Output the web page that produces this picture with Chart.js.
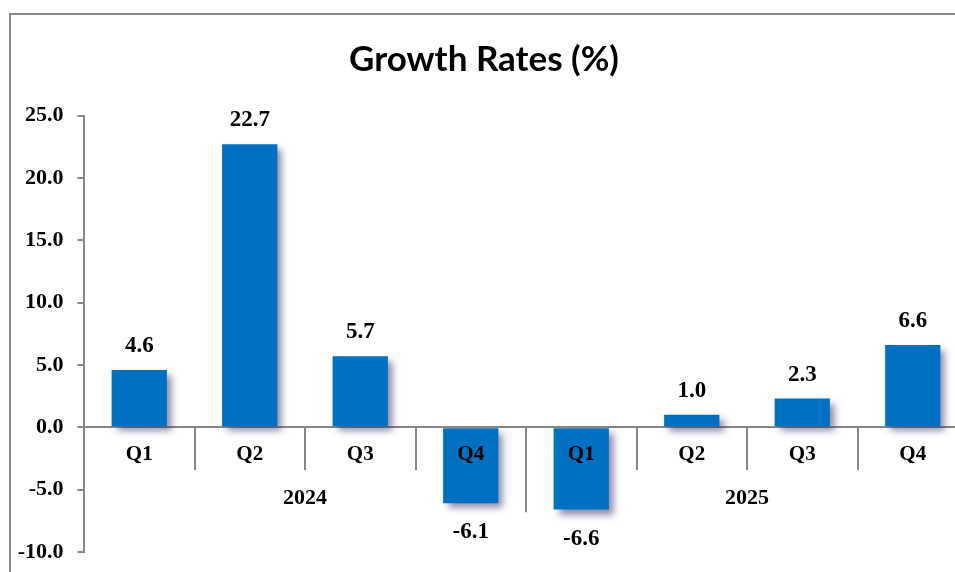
<!DOCTYPE html>
<html>
<head>
<meta charset="utf-8">
<script src="https://cdn.jsdelivr.net/npm/chart.js@4.4.1/dist/chart.umd.min.js"></script>
<style>
  html, body { margin: 0; padding: 0; background: #fff; overflow: hidden; width: 955px; height: 572px; }
  #frame { position: absolute; left: 9px; top: 13px; width: 960px; height: 570px; border-left: 2px solid #8a8a8a; border-top: 2px solid #8a8a8a; box-sizing: border-box; }
  #wrap { position: absolute; left: 0; top: 0; width: 970px; height: 572px; }
</style>
</head>
<body>
<div id="frame"></div>
<div id="wrap"><canvas id="c"></canvas></div>
<script>
const quarters = ['Q1', 'Q2', 'Q3', 'Q4', 'Q1', 'Q2', 'Q3', 'Q4'];
const years = ['2024', '2025'];
const growthRates = [4.6, 22.7, 5.7, -6.1, -6.6, 1.0, 2.3, 6.6];
const yTicks = [-10, -5, 0, 5, 10, 15, 20, 25];

const BLUE = '#0070C0';
const AXIS = '#878787';
const SERIF = '"Liberation Serif", "Times New Roman", serif';

const shadowPlugin = {
  id: 'barShadow',
  beforeDatasetsDraw(chart) {
    const ctx = chart.ctx;
    ctx.save();
    ctx.shadowColor = 'rgba(45,45,100,0.55)';
    ctx.shadowBlur = 7;
    ctx.shadowOffsetX = 5;
    ctx.shadowOffsetY = 5;
  },
  afterDatasetsDraw(chart) {
    chart.ctx.restore();
  }
};

const extrasPlugin = {
  id: 'extras',
  afterDraw(chart) {
    const ctx = chart.ctx;
    const x = chart.scales.x, y = chart.scales.y;
    const zero = y.getPixelForValue(0);
    ctx.save();
    // value labels
    ctx.font = 'bold 23px ' + SERIF;
    ctx.fillStyle = '#000';
    ctx.textAlign = 'center';
    ctx.textBaseline = 'middle';
    const meta = chart.getDatasetMeta(0);
    meta.data.forEach((bar, i) => {
      const v = growthRates[i];
      const py = v >= 0 ? bar.y - 24 : bar.y + 29;
      ctx.fillText(v.toFixed(1), bar.x, py);
    });
    // longer separator between years
    const half = (x.getPixelForValue(1) - x.getPixelForValue(0)) / 2;
    const bx = Math.round(x.getPixelForValue(3) + half);
    ctx.strokeStyle = AXIS;
    ctx.lineWidth = 2;
    ctx.beginPath();
    ctx.moveTo(bx, zero);
    ctx.lineTo(bx, zero + 85);
    ctx.stroke();
    // year labels
    ctx.font = 'bold 22px ' + SERIF;
    years.forEach((yr, k) => {
      const cx = (x.getPixelForValue(k * 4) + x.getPixelForValue(k * 4 + 3)) / 2;
      ctx.fillText(yr, cx, zero + 71);
    });
    ctx.restore();
  }
};

new Chart(document.getElementById('c'), {
  type: 'bar',
  data: {
    labels: quarters,
    datasets: [{
      data: growthRates,
      backgroundColor: BLUE,
      borderWidth: 0,
      categoryPercentage: 1.0,
      barPercentage: 0.5
    }]
  },
  options: {
    responsive: true,
    maintainAspectRatio: false,
    animation: false,
    layout: { padding: { top: 39, bottom: 20, left: 0, right: 2 } },
    plugins: {
      legend: { display: false },
      tooltip: { enabled: false },
      title: {
        display: true,
        text: 'Growth Rates (%)',
        color: '#000',
        font: { family: 'Lato', weight: 'bold', size: 35, lineHeight: 1.2 },
        padding: { top: 0, bottom: 34.5 }
      }
    },
    scales: {
      x: {
        position: { y: 0 },
        offset: true,
        grid: { drawOnChartArea: false, drawTicks: true, tickLength: 42, color: AXIS, lineWidth: 2, offset: true },
        border: { color: AXIS, width: 2 },
        ticks: { color: '#000', font: { family: SERIF, weight: 'bold', size: 21 }, padding: -27.5, z: 1, maxRotation: 0, autoSkip: false },
        afterFit(scale) { scale.height = 0; }
      },
      y: {
        min: -10,
        max: 25,
        afterBuildTicks(scale) { scale.ticks = yTicks.map(v => ({ value: v })); },
        grid: { drawOnChartArea: false, drawTicks: true, tickLength: 6.5, color: AXIS, lineWidth: 2 },
        border: { color: AXIS, width: 2 },
        ticks: {
          color: '#000',
          padding: 14,
          font: { family: SERIF, weight: 'bold', size: 22 },
          callback: v => Number(v).toFixed(1)
        },
        afterFit(scale) { scale.width = 84; scale.paddingTop = 0; scale.paddingBottom = 0; }
      }
    }
  },
  plugins: [shadowPlugin, extrasPlugin]
});
</script>
</body>
</html>
